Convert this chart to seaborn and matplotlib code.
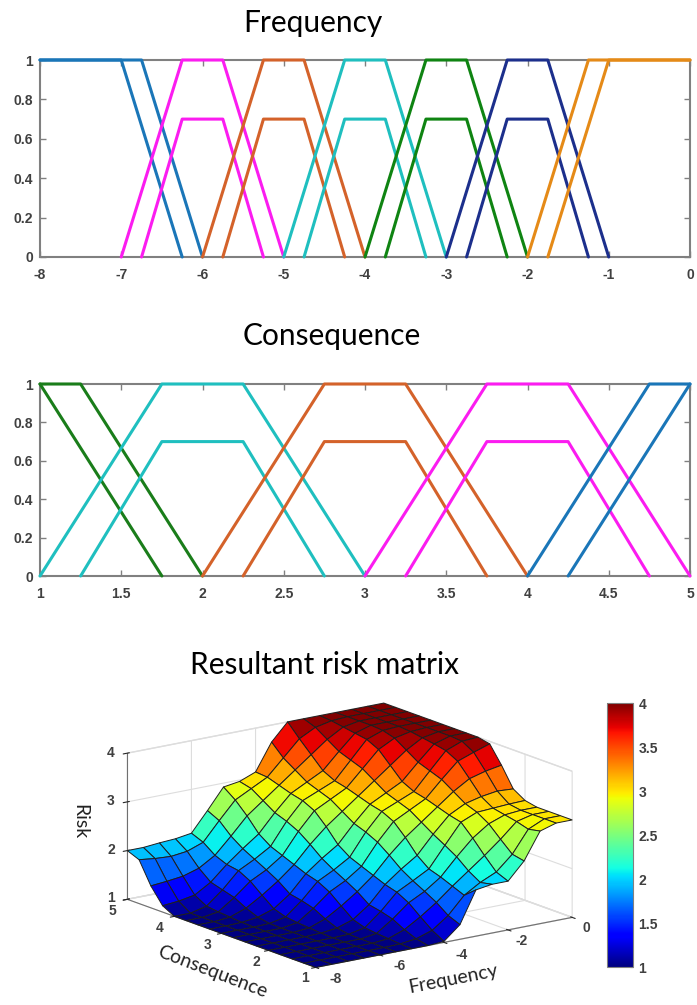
"""
Fuzzy risk chart: membership functions for frequency and consequence,
plus the resulting risk surface
"""

import numpy as np
import pandas as pd
import matplotlib
matplotlib.use('Agg')
import matplotlib.pyplot as plt
import seaborn as sns

BLUE = '#1a76b8'
MAGENTA = '#fb1cf0'
RUST = '#d4622a'
CYAN = '#1fbfbf'
GREEN = '#0f8412'
NAVY = '#1c2f8c'
ORANGE = '#e58a17'
DARK_GREEN = '#1a7d1a'
TICK_GREY = '#404040'
AXIS_GREY = '#808080'

# (x points, y points, colour) for each trapezoid
freq_x = [
    [-8, -6.75, -6], [-8, -7, -6.25],
    [-7, -6.25, -5.75, -5], [-6.75, -6.25, -5.75, -5.25],
    [-6, -5.25, -4.75, -4], [-5.75, -5.25, -4.75, -4.25],
    [-5, -4.25, -3.75, -3], [-4.75, -4.25, -3.75, -3.25],
    [-4, -3.25, -2.75, -2], [-3.75, -3.25, -2.75, -2.25],
    [-3, -2.25, -1.75, -1], [-2.75, -2.25, -1.75, -1.25],
    [-2, -1.25, 0], [-1.75, -1, 0],
]
freq_y = [
    [1, 1, 0], [1, 1, 0],
    [0, 1, 1, 0], [0, 0.7, 0.7, 0],
    [0, 1, 1, 0], [0, 0.7, 0.7, 0],
    [0, 1, 1, 0], [0, 0.7, 0.7, 0],
    [0, 1, 1, 0], [0, 0.7, 0.7, 0],
    [0, 1, 1, 0], [0, 0.7, 0.7, 0],
    [0, 1, 1], [0, 1, 1],
]
freq_colors = [BLUE, BLUE, MAGENTA, MAGENTA, RUST, RUST, CYAN, CYAN,
               GREEN, GREEN, NAVY, NAVY, ORANGE, ORANGE]

cons_x = [
    [1, 1.25, 2], [1, 1.75],
    [1, 1.75, 2.25, 3], [1.25, 1.75, 2.25, 2.75],
    [2, 2.75, 3.25, 4], [2.25, 2.75, 3.25, 3.75],
    [3, 3.75, 4.25, 5], [3.25, 3.75, 4.25, 4.75],
    [4, 4.75, 5], [4.25, 5],
]
cons_y = [
    [1, 1, 0], [1, 0],
    [0, 1, 1, 0], [0, 0.7, 0.7, 0],
    [0, 1, 1, 0], [0, 0.7, 0.7, 0],
    [0, 1, 1, 0], [0, 0.7, 0.7, 0],
    [0, 1, 1], [0, 1],
]
cons_colors = [DARK_GREEN, DARK_GREEN, CYAN, CYAN, RUST, RUST,
               MAGENTA, MAGENTA, BLUE, BLUE]

member_ticks = ['0', '0.2', '0.4', '0.6', '0.8', '1']

# Risk surface, one row per consequence value
freq_grid = [-8, -7.5, -7, -6.5, -6, -5.5, -5, -4.5, -4, -3.5, -3, -2.5, -2, -1.5, -1, -0.5, 0]
cons_grid = [1, 1.25, 1.5, 1.75, 2, 2.25, 2.5, 2.75, 3, 3.25, 3.5, 3.75, 4, 4.25, 4.5, 4.75, 5]
risk = [
    [1, 1, 1, 1, 1, 1, 1, 1, 1.02, 1.3, 1.95, 2, 2, 2.35, 2.9, 3, 3],
    [1, 1, 1, 1, 1, 1, 1.01, 1.05, 1.16, 1.4, 1.75, 1.95, 2.1, 2.4, 2.85, 3, 3],
    [1, 1, 1, 1, 1, 1, 1.03, 1.15, 1.35, 1.58, 1.85, 2.1, 2.35, 2.62, 2.92, 3, 3],
    [1, 1, 1, 1, 1, 1, 1.05, 1.28, 1.55, 1.72, 1.95, 2.3, 2.62, 2.85, 2.97, 3, 3],
    [1, 1, 1, 1, 1, 1.01, 1.08, 1.35, 1.68, 1.85, 2.03, 2.45, 2.86, 3, 3.02, 3.04, 3.05],
    [1, 1, 1, 1, 1.01, 1.05, 1.16, 1.4, 1.75, 2, 2.22, 2.59, 2.92, 3.09, 3.17, 3.22, 3.2],
    [1, 1, 1, 1, 1.03, 1.15, 1.35, 1.58, 1.85, 2.2, 2.5, 2.75, 3, 3.25, 3.45, 3.54, 3.6],
    [1, 1, 1, 1, 1.05, 1.28, 1.55, 1.72, 1.95, 2.38, 2.74, 2.91, 3.08, 3.41, 3.72, 3.84, 3.95],
    [1, 1, 1, 1.01, 1.08, 1.35, 1.68, 1.85, 2.05, 2.5, 2.86, 3, 3.14, 3.5, 3.85, 3.98, 4],
    [1, 1, 1.01, 1.05, 1.16, 1.4, 1.75, 2, 2.22, 2.59, 2.92, 3.09, 3.26, 3.59, 3.9, 4, 4],
    [1, 1, 1.03, 1.15, 1.35, 1.58, 1.85, 2.2, 2.5, 2.75, 3, 3.25, 3.5, 3.75, 3.94, 4, 4],
    [1, 1, 1.05, 1.28, 1.55, 1.72, 1.95, 2.38, 2.74, 2.91, 3.08, 3.41, 3.74, 3.91, 3.98, 4, 4],
    [1, 1, 1.08, 1.35, 1.68, 1.85, 2.05, 2.5, 2.86, 3, 3.14, 3.5, 3.86, 3.98, 4, 4, 4],
    [1.13, 1.16, 1.22, 1.42, 1.72, 1.98, 2.22, 2.59, 2.92, 3.09, 3.26, 3.59, 3.9, 4, 4, 4, 4],
    [1.45, 1.48, 1.52, 1.62, 1.82, 2.15, 2.5, 2.75, 3, 3.25, 3.5, 3.75, 3.94, 4, 4, 4, 4],
    [1.9, 1.86, 1.84, 1.88, 2, 2.38, 2.74, 2.91, 3.08, 3.41, 3.74, 3.91, 3.98, 4, 4, 4, 4],
    [2, 2, 2.03, 2.05, 2.1, 2.5, 2.92, 2.97, 3.1, 3.65, 4, 4, 4, 4, 4, 4, 4],
]

# Tick labels of the 3D box, placed by hand in pixels
risk_labels = ['1', '2', '3', '4']
risk_label_y = [898, 850, 801, 753]
cons_labels = ['5', '4', '3', '2', '1']
cons_label_x = [112, 160, 208, 256, 305]
cons_label_y = [911, 928, 945, 962, 978]
freq_labels = ['-8', '-6', '-4', '-2', '0']
freq_label_x = [336, 400, 462, 522, 586]
freq_label_y = [979, 966, 955, 941, 928]

sns.set_style('white')
plt.rcParams['font.family'] = ['Liberation Sans', 'DejaVu Sans']

W, H = 697, 1005
fig = plt.figure(figsize=(W / 100, H / 100), dpi=100)


def px_rect(left, top, right, bottom):
    """Axes rectangle from pixel edges, y counted from the top"""
    return [left / W, 1 - bottom / H, (right - left) / W, (bottom - top) / H]


def px_text(x, y, s, **kwargs):
    """Figure text at a pixel position, y counted from the top"""
    fig.text(x / W, 1 - y / H, s, ha='center', va='center', **kwargs)


def plot_members(rect, xs, ys, colors, xticks, xlabels):
    """Draw one row of trapezoid membership functions"""
    ax = fig.add_axes(rect)
    for n, (x, y, c) in enumerate(zip(xs, ys, colors)):
        df = pd.DataFrame({'x': x, 'y': y})
        sns.lineplot(data=df, x='x', y='y', color=c, linewidth=2.2, estimator=None,
                     sort=False, ax=ax, clip_on=False, zorder=3 + n * 0.01)
    ax.set_xlim(xticks[0], xticks[-1])
    ax.set_ylim(0, 1)
    ax.set_xticks(xticks)
    ax.set_xticklabels(xlabels, fontsize=10, fontweight='bold', color=TICK_GREY)
    ax.set_yticks([0, 0.2, 0.4, 0.6, 0.8, 1])
    ax.set_yticklabels(member_ticks, fontsize=10, fontweight='bold', color=TICK_GREY)
    ax.set_xlabel('')
    ax.set_ylabel('')
    ax.tick_params(axis='both', direction='in', length=4, width=1, color=AXIS_GREY,
                   top=True, right=True, bottom=True, left=True, pad=5)
    ax.tick_params(axis='x', pad=8)
    for side in ax.spines.values():
        side.set_color(AXIS_GREY)
        side.set_linewidth(1.5)
    return ax


plot_members(px_rect(40, 60, 690, 257), freq_x, freq_y, freq_colors,
             [-8, -7, -6, -5, -4, -3, -2, -1, 0],
             ['-8', '-7', '-6', '-5', '-4', '-3', '-2', '-1', '0'])
plot_members(px_rect(40, 384, 690, 576), cons_x, cons_y, cons_colors,
             [1, 1.5, 2, 2.5, 3, 3.5, 4, 4.5, 5],
             ['1', '1.5', '2', '2.5', '3', '3.5', '4', '4.5', '5'])

# Slide style titles
title_font = ['Lato', 'DejaVu Sans']
px_text(313, 23, 'Frequency', fontsize=21.5, family=title_font, color='black')
px_text(332, 336, 'Consequence', fontsize=21.5, family=title_font, color='black')
px_text(324, 665, 'Resultant risk matrix', fontsize=21.5, family=title_font, color='black')

# Risk surface
ax3d = fig.add_axes(px_rect(113, 611, 574, 1072), projection='3d')
ax3d.set_proj_type('ortho')
ax3d.view_init(elev=15.4, azim=-126.3)
ax3d.set_box_aspect((318, 318, 151.5))

X, Y = np.meshgrid(freq_grid, cons_grid)
Z = np.array(risk)
ax3d.plot_surface(X, Y, Z, cmap='jet', vmin=1, vmax=4, rstride=1, cstride=1, shade=False,
                  edgecolor='#1e1e1e', linewidth=0.7, antialiased=True)
ax3d.set_xlim(-8, 0)
ax3d.set_ylim(1, 5)
ax3d.set_zlim(1, 4)
ax3d.set_xticks([-8, -6, -4, -2, 0])
ax3d.set_yticks([1, 2, 3, 4, 5])
ax3d.set_zticks([1, 2, 3, 4])
ax3d.set_xticklabels([])
ax3d.set_yticklabels([])
ax3d.set_zticklabels([])
for axis in (ax3d.xaxis, ax3d.yaxis, ax3d.zaxis):
    axis.set_pane_color((1, 1, 1, 1))
    axis.pane.set_edgecolor('#dddddd')
    axis.line.set_color('#707070')
    axis._axinfo['grid']['color'] = '#dddddd'
    axis._axinfo['grid']['linewidth'] = 0.8
ax3d.patch.set_alpha(0)

tick_style = dict(fontsize=10, fontweight='bold', color=TICK_GREY)
for s, y in zip(risk_labels, risk_label_y):
    px_text(111, y, s, **tick_style)
for s, x, y in zip(cons_labels, cons_label_x, cons_label_y):
    px_text(x, y, s, **tick_style)
for s, x, y in zip(freq_labels, freq_label_x, freq_label_y):
    px_text(x, y, s, **tick_style)

# Axis names sit along the floor edges
label_font = ['Lato', 'DejaVu Sans']
px_text(80, 822, 'Risk', rotation=-90, fontsize=14, family=label_font, color='#222222')
px_text(212, 972, 'Consequence', rotation=-21, fontsize=14, family=label_font, color='#222222')
px_text(453, 979, 'Frequency', rotation=11, fontsize=14, family=label_font, color='#222222')

# Colour bar
cax = fig.add_axes(px_rect(607, 703, 633, 967))
sm = plt.cm.ScalarMappable(cmap='jet', norm=plt.Normalize(1, 4))
cbar = fig.colorbar(sm, cax=cax)
cbar.set_ticks([1, 1.5, 2, 2.5, 3, 3.5, 4])
cbar.set_ticklabels(['1', '1.5', '2', '2.5', '3', '3.5', '4'], fontsize=10,
                    fontweight='bold', color=TICK_GREY)
cbar.ax.tick_params(direction='in', length=2, color='#404040', pad=4)
cbar.outline.set_edgecolor(AXIS_GREY)

fig.savefig('out.png', dpi=100)
